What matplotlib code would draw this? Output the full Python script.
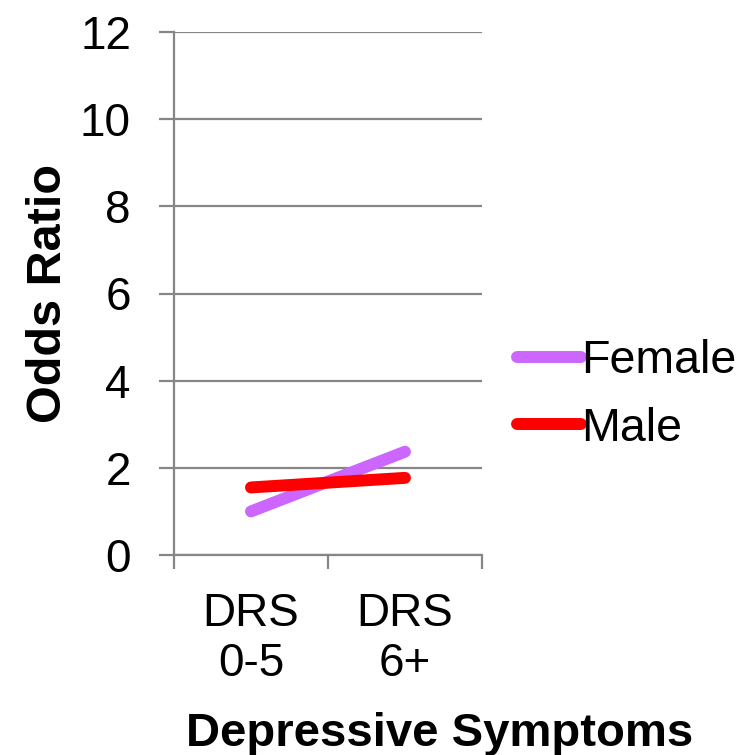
import matplotlib
matplotlib.use('Agg')
import matplotlib.pyplot as plt

# data
categories = ['DRS\n0-5', 'DRS\n6+']
female_or = [1.0, 2.37]
male_or = [1.55, 1.77]
y_ticks = [0, 2, 4, 6, 8, 10, 12]

plt.rcParams['font.family'] = ['Liberation Sans', 'DejaVu Sans']

grid_col = '#868686'
fig = plt.figure(figsize=(7.47, 7.55), dpi=100)
ax = fig.add_axes([174 / 747, 1 - 555 / 755, 308 / 747, 523 / 755])

x = list(range(len(categories)))
ax.plot(x, female_or, color='#CC66FF', lw=8.6, solid_capstyle='round', label='Female', zorder=3)
ax.plot(x, male_or, color='#FF0000', lw=8.6, solid_capstyle='round', label='Male', zorder=4)

ax.set_ylim(0, 12)
ax.set_xlim(-0.5, len(categories) - 0.5)
ax.set_yticks(y_ticks)
ax.yaxis.grid(True, color=grid_col, lw=1.6)
ax.set_axisbelow(True)

# category boundaries as major ticks, labels on minor ticks at centres
ax.set_xticks([i - 0.5 for i in range(len(categories) + 1)])
ax.set_xticklabels([])
ax.set_xticks(x, minor=True)
ax.set_xticklabels(categories, minor=True, fontsize=33, linespacing=1.17)
ax.tick_params(axis='x', which='major', length=10, width=1.6, color=grid_col)
ax.tick_params(axis='x', which='minor', length=0, pad=27)
ax.tick_params(axis='y', length=11, width=1.6, color=grid_col, labelsize=33, pad=20)

for s in ['top', 'right']:
    ax.spines[s].set_visible(False)
for s in ['left', 'bottom']:
    ax.spines[s].set_color(grid_col)
    ax.spines[s].set_linewidth(1.6)

ax.set_xlabel('Depressive Symptoms', fontsize=34, fontweight='bold')
ax.xaxis.set_label_coords((440 - 174) / 308, (555 - 712) / 523)
ax.set_ylabel('Odds Ratio', fontsize=35, fontweight='bold')
ax.yaxis.set_label_coords((71 - 174) / 308, 0.5)

ax.legend(loc='center left', bbox_to_anchor=(517 / 747, 1 - 395 / 755),
          bbox_transform=fig.transFigure, frameon=False, fontsize=33.5,
          handlelength=1.37, handletextpad=0.0, borderpad=0, borderaxespad=0,
          labelspacing=0.5)

fig.savefig('out.png', dpi=100, facecolor='white')
